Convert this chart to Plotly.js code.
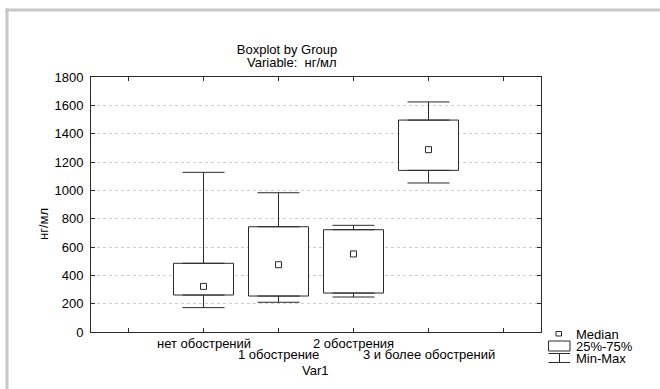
<!DOCTYPE html>
<html>
<head>
<meta charset="utf-8">
<script src="https://cdn.plot.ly/plotly-3.0.1.min.js"></script>
<style>html,body{margin:0;padding:0;background:#fff;}#chart{width:660px;height:389px;}</style>
</head>
<body>
<div id="chart"></div>
<script>
// ---- data ----
const categories = ['нет обострений', '1 обострение', '2 обострения', '3 и более обострений'];
const minVals    = [172, 210, 247, 1052];
const q1Vals     = [261, 254, 275, 1141];
const medianVals = [322, 475, 551, 1287];
const q3Vals     = [485, 743, 722, 1496];
const maxVals    = [1127, 983, 753, 1624];
const yTickVals  = [0, 200, 400, 600, 800, 1000, 1200, 1400, 1600, 1800];
const legendLabels = ['Median', '25%-75%', 'Min-Max'];
const titleText = 'Boxplot by Group';
const subtitleText = 'Variable:\u00a0 нг/мл';
const yTitleText = 'нг/мл';
const xTitleText = 'Var1';

// ---- layout geometry ----
const FIG_W = 660, FIG_H = 389;
const L = 91, T = 77, W = 450, H = 255;
const px2x = px => (px - L) / W;
const py2y = py => (T + H - py) / H;
const FONT = 'Liberation Sans, Arial, sans-serif';
const LINE = '#2a2a2a';

const idx = categories.map((_, i) => i);

const traces = [
  {
    type: 'bar', x: idx, base: q1Vals,
    y: q3Vals.map((v, i) => v - q1Vals[i]),
    width: 0.8,
    marker: {color: '#ffffff', line: {color: LINE, width: 1}},
    showlegend: false, hoverinfo: 'skip'
  },
  {
    type: 'scatter', mode: 'markers', x: idx, y: q3Vals,
    marker: {size: 1, color: 'rgba(0,0,0,0)'},
    error_y: {type: 'data', symmetric: false,
      array: maxVals.map((v, i) => v - q3Vals[i]),
      arrayminus: q3Vals.map(() => 0),
      color: LINE, thickness: 1, width: 21},
    showlegend: false, hoverinfo: 'skip'
  },
  {
    type: 'scatter', mode: 'markers', x: idx, y: q1Vals,
    marker: {size: 1, color: 'rgba(0,0,0,0)'},
    error_y: {type: 'data', symmetric: false,
      array: q1Vals.map(() => 0),
      arrayminus: q1Vals.map((v, i) => v - minVals[i]),
      color: LINE, thickness: 1, width: 21},
    showlegend: false, hoverinfo: 'skip'
  },
  {
    type: 'scatter', mode: 'markers', x: idx, y: medianVals,
    marker: {symbol: 'square-open', size: 6, color: LINE, line: {width: 1, color: LINE}},
    showlegend: false, hoverinfo: 'skip'
  }
];

const annBase = {showarrow: false, borderpad: 0, font: {family: FONT, size: 13, color: '#000'}};
const annotations = [];
categories.forEach((c, i) => {
  annotations.push(Object.assign({}, annBase, {
    text: c, x: i, xref: 'x', y: py2y(i % 2 === 0 ? 343.5 : 354.5), yref: 'paper',
    xanchor: 'center', yanchor: 'middle'
  }));
});
annotations.push(Object.assign({}, annBase, {
  text: subtitleText, x: px2x(292), xref: 'paper', y: py2y(63), yref: 'paper',
  xanchor: 'center', yanchor: 'middle'
}));
annotations.push(Object.assign({}, annBase, {
  text: yTitleText, x: px2x(43), xref: 'paper', y: py2y(224), yref: 'paper',
  xanchor: 'center', yanchor: 'middle', textangle: -90
}));
annotations.push(Object.assign({}, annBase, {
  text: xTitleText, x: px2x(315), xref: 'paper', y: py2y(370.5), yref: 'paper',
  xanchor: 'center', yanchor: 'middle'
}));
const legendY = [334, 346, 358];
legendLabels.forEach((t, i) => {
  annotations.push(Object.assign({}, annBase, {
    text: t, x: px2x(575), xref: 'paper', y: py2y(legendY[i]), yref: 'paper',
    xanchor: 'left', yanchor: 'middle'
  }));
});

const paperLine = (x0, y0, x1, y1, color, width) => ({
  type: 'line', xref: 'paper', yref: 'paper',
  x0: px2x(x0), y0: py2y(y0), x1: px2x(x1), y1: py2y(y1),
  line: {color: color, width: width}
});
const shapes = [
  // outer grey frame
  paperLine(5.5, 10, 660, 10, '#c8c8c8', 3),
  paperLine(7, 8.5, 7, 389, '#c8c8c8', 3),
  // legend icons
  {type: 'rect', xref: 'paper', yref: 'paper',
   x0: px2x(556), x1: px2x(561.5), y0: py2y(336), y1: py2y(331.5),
   line: {color: LINE, width: 1}, fillcolor: 'rgba(0,0,0,0)'},
  {type: 'rect', xref: 'paper', yref: 'paper',
   x0: px2x(548.5), x1: px2x(570), y0: py2y(351), y1: py2y(341),
   line: {color: LINE, width: 1}, fillcolor: 'rgba(0,0,0,0)'},
  paperLine(548.5, 353.5, 570, 353.5, LINE, 1),
  paperLine(559.5, 353.5, 559.5, 362.5, LINE, 1),
  paperLine(548.5, 362.5, 570, 362.5, LINE, 1)
];

const layout = {
  width: FIG_W, height: FIG_H,
  margin: {l: L, r: FIG_W - L - W, t: T, b: FIG_H - T - H, pad: 0},
  paper_bgcolor: '#ffffff', plot_bgcolor: '#ffffff',
  font: {family: FONT, size: 13, color: '#000'},
  title: {text: titleText, font: {family: FONT, size: 13, color: '#000'},
    x: 287 / FIG_W, xref: 'container', xanchor: 'center',
    y: 1 - 49 / FIG_H, yref: 'container', yanchor: 'middle'},
  showlegend: false,
  hovermode: false,
  bargap: 0,
  xaxis: {
    range: [-1.5, 4.5], tickvals: [-1, 0, 1, 2, 3, 4], ticktext: ['', '', '', '', '', ''],
    ticks: 'inside', ticklen: 4, tickcolor: LINE, mirror: 'ticks',
    showline: true, linecolor: LINE, linewidth: 1,
    showgrid: false, zeroline: false, fixedrange: true
  },
  yaxis: {
    range: [0, 1800], tickvals: yTickVals, ticktext: yTickVals.map(String),
    ticks: 'inside', ticklen: 4, tickcolor: LINE, mirror: 'ticks',
    showline: true, linecolor: LINE, linewidth: 1,
    showgrid: true, gridcolor: '#cdcdcd', griddash: 'dot', gridwidth: 1,
    zeroline: false, fixedrange: true,
    tickfont: {family: FONT, size: 13, color: '#000'}, ticklabelstandoff: 4
  },
  annotations: annotations,
  shapes: shapes
};

Plotly.newPlot('chart', traces, layout, {displayModeBar: false, staticPlot: true});
</script>
</body>
</html>
